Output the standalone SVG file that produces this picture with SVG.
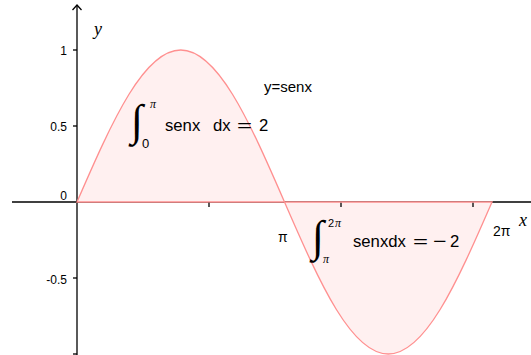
<svg xmlns="http://www.w3.org/2000/svg" width="531" height="355" viewBox="0 0 531 355">
<style>
.ax{stroke:#000;stroke-width:1.3;fill:none}
.lbl{font-family:"Liberation Sans",Arial,sans-serif;font-size:12px;fill:#000}
.txt{font-family:"Liberation Sans",Arial,sans-serif;fill:#000}
.it{font-family:"Liberation Serif","Times New Roman",serif;font-style:italic;fill:#000}
.int{font-family:"Liberation Serif","Times New Roman",serif;font-size:44px;fill:#000}
.region{fill:#fff0f0;stroke:#ff9090;stroke-width:1.3}
</style>
<rect width="531" height="355" fill="#fff"/>
<g id="axes">
<line class="ax" x1="12" y1="202" x2="531" y2="202"/>
<line class="ax" x1="77" y1="355" x2="77" y2="5"/>
<polyline class="ax" points="72.5,10 77,5 81.5,10"/>
<text class="lbl" x="67" y="54.5" text-anchor="end">1</text>
<text class="lbl" x="67" y="131" text-anchor="end">0.5</text>
<text class="lbl" x="67" y="199.5" text-anchor="end">0</text>
<text class="lbl" x="67" y="283.5" text-anchor="end">-0.5</text>
<text class="it" x="94" y="35" font-size="18">y</text>
<text class="it" x="519" y="226" font-size="18">x</text>
<text class="txt" x="278" y="241.5" font-size="14">π</text>
<text class="txt" x="493" y="235.5" font-size="14">2π</text>
</g>
<g id="curve">
<path class="region" d="M77,202 C94.29,162.21 111.58,122.65 128.875,94.52 C146.17,66.38 163.46,50 180.75,50 C198.04,50 215.33,66.38 232.625,94.52 C249.92,122.65 267.21,162.21 284.5,202 C301.79,241.79 319.08,281.35 336.375,309.48 C353.67,337.62 370.96,354 388.25,354 C405.54,354 422.83,337.62 440.125,309.48 C457.42,281.35 474.71,241.79 492,202 Z"/>
</g>
<g id="ticks" class="ax">
<line x1="73" y1="50" x2="77" y2="50"/>
<line x1="73" y1="126" x2="77" y2="126"/>
<line x1="73" y1="278" x2="77" y2="278"/>
<line x1="73" y1="354" x2="77" y2="354"/>
<line x1="209" y1="202.7" x2="209" y2="207"/>
<line x1="341" y1="202.7" x2="341" y2="207"/>
<line x1="473" y1="202.7" x2="473" y2="207"/>
</g>
<g id="label-f">
<text class="txt" x="264" y="92" font-size="15">y=senx</text>
</g>
<g id="integral1">
<text class="int" x="131" y="135">∫</text>
<text class="it" x="150" y="108" font-size="12">π</text>
<text class="txt" x="142" y="148" font-size="13">0</text>
<text class="txt" x="165" y="131" font-size="16.7">senx</text>
<text class="txt" x="213" y="131" font-size="16.7">dx</text>
<text class="txt" x="237" y="131" font-size="16.7" textLength="15" lengthAdjust="spacingAndGlyphs">=</text>
<text class="txt" x="259" y="131" font-size="16.7">2</text>
</g>
<g id="integral2">
<text class="int" x="312" y="251">∫</text>
<text class="txt" x="328" y="226.5" font-size="11">2</text>
<text class="it" x="335" y="226.5" font-size="12">π</text>
<text class="it" x="323" y="263" font-size="12">π</text>
<text class="txt" x="353" y="246.5" font-size="16.7">senxdx</text>
<text class="txt" x="413" y="246.5" font-size="16.7" textLength="15" lengthAdjust="spacingAndGlyphs">=</text>
<text class="txt" x="433" y="246.5" font-size="16.7" textLength="13.5" lengthAdjust="spacingAndGlyphs">−</text>
<text class="txt" x="450" y="246.5" font-size="16.7">2</text>
</g>
</svg>
